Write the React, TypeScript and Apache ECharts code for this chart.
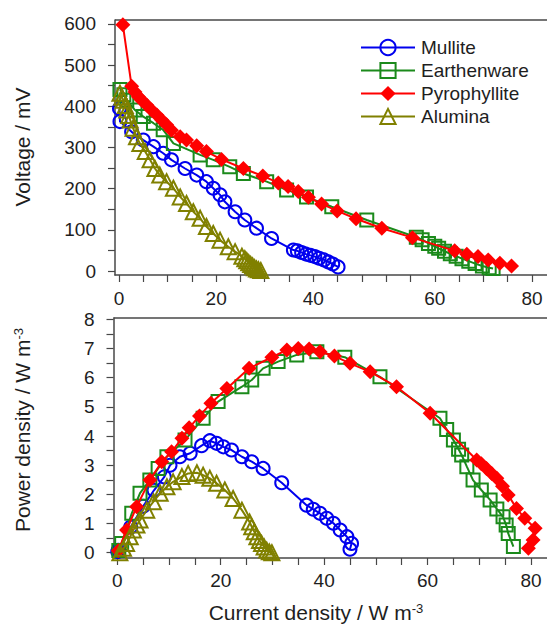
import React, { useEffect, useRef } from 'react';
import * as echarts from 'echarts';

const seriesNames = ['Mullite', 'Earthenware', 'Pyrophyllite', 'Alumina'];
const seriesColors = ['#0000ee', '#1b8a1b', '#ff0000', '#808000'];
const seriesSymbols = ['circle', 'rect', 'diamond', 'triangle'];

// Top panel: [current density, voltage (mV)]
const mulliteVoltage = [
  [0.1, 395], [0.2, 363], [2.6, 338], [5.0, 318], [7.1, 302], [9.1, 286], [10.8, 270],
  [13.6, 249], [16.0, 233], [18.0, 217], [19.4, 201], [20.8, 185], [21.8, 168], [23.9, 144],
  [25.9, 124], [28.3, 104], [31.4, 79], [35.9, 51], [36.7, 49], [37.6, 45], [38.5, 41],
  [39.4, 38], [40.3, 35], [41.2, 31], [42.2, 27], [43.1, 22], [44.0, 17], [45.1, 10],
];
const earthenwareVoltage = [
  [0.2, 441], [1.0, 428], [1.6, 415], [3.3, 391], [5.0, 375], [7.1, 359], [9.1, 343], [11.2, 310],
  [16.7, 282], [19.4, 270], [22.8, 253], [25.6, 237], [30.4, 217], [34.5, 197], [38.6, 180],
  [43.8, 156], [51.0, 124], [61.2, 82], [62.4, 76], [63.7, 67], [65.0, 60], [65.8, 55],
  [67.0, 48], [68.2, 42], [69.4, 36], [70.6, 30], [72.0, 24], [73.3, 18], [74.8, 12],
  [76.2, 8], [77.0, 6],
];
const pyrophylliteVoltage = [
  [0.8, 598], [2.6, 449], [3.3, 435], [4.0, 423], [4.7, 415], [5.7, 403], [6.7, 391],
  [7.8, 379], [8.8, 367], [9.8, 355], [10.8, 342], [12.6, 326], [13.9, 318], [16.0, 304],
  [18.0, 290], [21.1, 271], [25.6, 249], [29.6, 231], [32.8, 214], [34.8, 205], [36.9, 193],
  [39.0, 179], [41.7, 163], [44.9, 146], [48.8, 127], [54.1, 104], [60.4, 81], [69.1, 49],
  [71.6, 41], [73.9, 35], [76.0, 27], [78.4, 19], [80.8, 12],
];
const aluminaVoltage = [
  [0.2, 432], [0.6, 422], [0.9, 415], [1.3, 402], [1.6, 391], [2.0, 378], [2.3, 367],
  [2.9, 347], [3.6, 326], [4.3, 310], [5.4, 290], [6.4, 270], [7.4, 249], [8.4, 233],
  [9.8, 217], [11.2, 201], [12.6, 180], [13.9, 164], [15.3, 144], [16.7, 128], [18.0, 108],
  [19.4, 91], [20.8, 75], [22.5, 59], [23.9, 47], [25.3, 36], [25.9, 30], [26.3, 25],
  [26.7, 20], [27.1, 16], [27.5, 12], [27.9, 8], [28.3, 5], [28.7, 3], [29.2, 1],
];

// Bottom panel: [current density, power density]
const mullitePower = [
  [0.1, 0.04], [0.2, 0.08], [2.6, 0.88], [5.0, 1.59], [7.1, 2.14], [9.1, 2.6], [10.2, 3.0],
  [12.1, 3.29], [14.1, 3.41], [16.3, 3.67], [17.9, 3.84], [19.2, 3.75], [20.5, 3.63],
  [22.1, 3.52], [24.1, 3.29], [26.0, 3.12], [28.2, 2.89], [31.8, 2.40], [36.6, 1.63],
  [37.9, 1.49], [39.2, 1.35], [40.5, 1.18], [41.8, 1.01], [43.1, 0.78], [44.4, 0.55],
  [45.3, 0.32], [45.0, 0.12],
];
const earthenwarePower = [
  [0.3, 0.08], [0.85, 0.32], [2.8, 1.35], [4.4, 2.04], [6.3, 2.49], [7.9, 2.89], [9.6, 3.29],
  [13.1, 3.86], [16.6, 4.61], [19.5, 5.18], [24.1, 5.69], [26.0, 5.92], [28.2, 6.32],
  [31.1, 6.55], [34.7, 6.78], [38.6, 6.89], [44.0, 6.70], [50.8, 6.03], [62.4, 4.61],
  [63.7, 4.22], [65.0, 3.86], [66.0, 3.55], [66.6, 3.35], [67.6, 2.95], [68.8, 2.49],
  [70.4, 2.15], [72.1, 1.81], [73.4, 1.50], [74.6, 1.23], [75.2, 0.95], [75.6, 0.66],
  [76.6, 0.21],
];
const pyrophyllitePower = [
  [0.2, 0.07], [1.8, 0.78], [3.75, 1.58], [6.3, 2.49], [8.6, 3.12], [10.5, 3.46], [12.5, 3.92],
  [13.9, 4.28], [15.9, 4.69], [18.1, 5.12], [21.2, 5.63], [25.5, 6.32], [29.9, 6.70],
  [32.8, 6.95], [35.0, 7.0], [37.1, 6.98], [39.2, 6.89], [42.0, 6.74], [45.0, 6.49],
  [48.9, 6.20], [54.0, 5.69], [60.5, 4.78], [69.5, 3.18], [70.4, 3.05], [71.4, 2.89],
  [72.4, 2.72], [73.4, 2.55], [74.5, 2.28], [75.6, 1.98], [77.2, 1.52], [78.8, 1.18],
  [80.8, 0.84], [80.4, 0.44], [79.5, 0.15],
];
const aluminaPower = [
  [0.5, 0.0], [1.2, 0.15], [1.8, 0.32], [2.5, 0.55], [3.1, 0.78], [3.8, 0.95], [4.4, 1.12],
  [5.7, 1.46], [7.0, 1.75], [8.3, 2.04], [9.6, 2.26], [10.8, 2.43], [12.5, 2.61],
  [13.7, 2.72], [15.4, 2.74], [16.6, 2.66], [17.9, 2.55], [19.2, 2.38], [20.8, 2.15],
  [22.4, 1.86], [24.1, 1.46], [25.6, 1.05], [26.0, 0.89], [26.5, 0.72], [27.0, 0.55],
  [27.5, 0.42], [27.9, 0.32], [28.4, 0.2], [28.9, 0.09], [29.4, 0.03], [29.9, 0.0],
];

// Ticks and labels
const voltageTicks = [0, 50, 100, 150, 200, 250, 300, 350, 400, 450, 500, 550, 600];
const voltageLabels = [0, 100, 200, 300, 400, 500, 600];
const topCurrentTicks = [0, 5, 10, 15, 20, 25, 30, 35, 40, 45, 50, 55, 60, 65, 70, 75, 80, 85];
const topCurrentLabelPositions = [0, 20, 40, 65, 85];
const topCurrentLabelTexts = ['0', '20', '40', '60', '80'];
const powerTicks = [0, 0.5, 1, 1.5, 2, 2.5, 3, 3.5, 4, 4.5, 5, 5.5, 6, 6.5, 7, 7.5, 8];
const powerLabels = [0, 1, 2, 3, 4, 5, 6, 7, 8];
const bottomCurrentTicks = [0, 5, 10, 15, 20, 25, 30, 35, 40, 45, 50, 55, 60, 65, 70, 75, 80];
const bottomCurrentLabels = [0, 20, 40, 60, 80];

const FONT = '"Liberation Sans", Arial, Helvetica, sans-serif';
const AXIS = '#474747';
const TEXT = '#1e1e1e';

function makeSeries(i: number, data: number[][], axisIndex: number) {
  const color = seriesColors[i];
  const symbol = seriesSymbols[i];
  const filled = symbol === 'diamond';
  const size = symbol === 'diamond' ? 15 : symbol === 'triangle' ? 15 : 13;
  return {
    name: seriesNames[i],
    type: 'line',
    xAxisIndex: axisIndex,
    yAxisIndex: axisIndex,
    data,
    symbol,
    symbolSize: size,
    showSymbol: true,
    showAllSymbol: true,
    clip: false,
    lineStyle: { color, width: 2 },
    itemStyle: filled
      ? { color, borderColor: color, borderWidth: 0 }
      : { color: 'rgba(255,255,255,0)', borderColor: color, borderWidth: 2 },
    emphasis: { disabled: true },
    z: 2 + i,
  };
}

export default function App() {
  const ref = useRef<HTMLDivElement>(null);
  useEffect(() => {
    if (!ref.current) return;
    const chart = echarts.init(ref.current, undefined, { renderer: 'svg' });
    const axisLine = { show: true, onZero: false, lineStyle: { color: AXIS, width: 1.5 } };
    const labelStyle = { fontSize: 19, color: TEXT, fontFamily: FONT };
    const sup = { fontSize: 13, fontFamily: FONT, fill: TEXT, verticalAlign: 'top', lineHeight: 12 };
    const option = {
      animation: false,
      backgroundColor: '#ffffff',
      textStyle: { fontFamily: FONT },
      grid: [
        { left: 115, top: 20, width: 432, height: 255 },
        { left: 113.5, top: 318, width: 433.5, height: 240 },
      ],
      xAxis: [
        {
          gridIndex: 0,
          type: 'value',
          min: -0.82,
          max: 88.1,
          axisLine,
          axisTick: { show: true, customValues: topCurrentTicks, length: 7, lineStyle: { color: AXIS, width: 1.2 } },
          axisLabel: {
            ...labelStyle,
            margin: 14,
            customValues: topCurrentLabelPositions,
            formatter: (v: number) => {
              const k = topCurrentLabelPositions.indexOf(v);
              return k >= 0 ? topCurrentLabelTexts[k] : '';
            },
          },
          splitLine: { show: false },
        },
        {
          gridIndex: 1,
          type: 'value',
          min: -0.73,
          max: 83.1,
          axisLine,
          axisTick: { show: true, customValues: bottomCurrentTicks, length: 7, lineStyle: { color: AXIS, width: 1.2 } },
          axisLabel: { ...labelStyle, margin: 13, customValues: bottomCurrentLabels },
          splitLine: { show: false },
        },
      ],
      yAxis: [
        {
          gridIndex: 0,
          type: 'value',
          min: -9.7,
          max: 609.7,
          axisLine,
          axisTick: { show: true, customValues: voltageTicks, length: 7, lineStyle: { color: AXIS, width: 1.2 } },
          axisLabel: { ...labelStyle, margin: 19, customValues: voltageLabels },
          splitLine: { show: false },
        },
        {
          gridIndex: 1,
          type: 'value',
          min: -0.18,
          max: 8.045,
          axisLine,
          axisTick: { show: true, customValues: powerTicks, length: 7, lineStyle: { color: AXIS, width: 1.2 } },
          axisLabel: { ...labelStyle, margin: 19, customValues: powerLabels },
          splitLine: { show: false },
        },
      ],
      legend: {
        data: seriesNames,
        orient: 'vertical',
        left: 355,
        top: 33,
        itemWidth: 54,
        itemHeight: 19,
        itemGap: 4,
        selectedMode: false,
        textStyle: { fontSize: 19, color: TEXT, fontFamily: FONT, padding: [0, 0, 0, 1] },
      },
      graphic: [
        { type: 'line', shape: { x1: 115, y1: 20, x2: 547, y2: 20 }, style: { stroke: AXIS, lineWidth: 1.5 } },
        { type: 'line', shape: { x1: 113.5, y1: 318, x2: 547, y2: 318 }, style: { stroke: AXIS, lineWidth: 1.5 } },
        {
          type: 'text',
          x: 22,
          y: 147,
          rotation: Math.PI / 2,
          style: { text: 'Voltage / mV', fontSize: 21, fontFamily: FONT, fill: TEXT, align: 'center', verticalAlign: 'middle' },
        },
        {
          type: 'text',
          x: 22,
          y: 430,
          rotation: Math.PI / 2,
          style: {
            text: 'Power density / W m{sup|-3}',
            fontSize: 21,
            fontFamily: FONT,
            fill: TEXT,
            align: 'center',
            verticalAlign: 'middle',
            rich: { sup },
          },
        },
        {
          type: 'text',
          x: 316,
          y: 612,
          style: {
            text: 'Current density / W m{sup|-3}',
            fontSize: 21,
            fontFamily: FONT,
            fill: TEXT,
            align: 'center',
            verticalAlign: 'middle',
            rich: { sup },
          },
        },
      ],
      series: [
        makeSeries(0, mulliteVoltage, 0),
        makeSeries(1, earthenwareVoltage, 0),
        makeSeries(2, pyrophylliteVoltage, 0),
        makeSeries(3, aluminaVoltage, 0),
        makeSeries(0, mullitePower, 1),
        makeSeries(1, earthenwarePower, 1),
        makeSeries(2, pyrophyllitePower, 1),
        makeSeries(3, aluminaPower, 1),
      ],
    };
    chart.setOption(option as any);
    return () => chart.dispose();
  }, []);
  return (
    <div
      ref={ref}
      style={{ position: 'absolute', left: 0, top: 0, width: 547, height: 626, background: '#fff' }}
    />
  );
}
